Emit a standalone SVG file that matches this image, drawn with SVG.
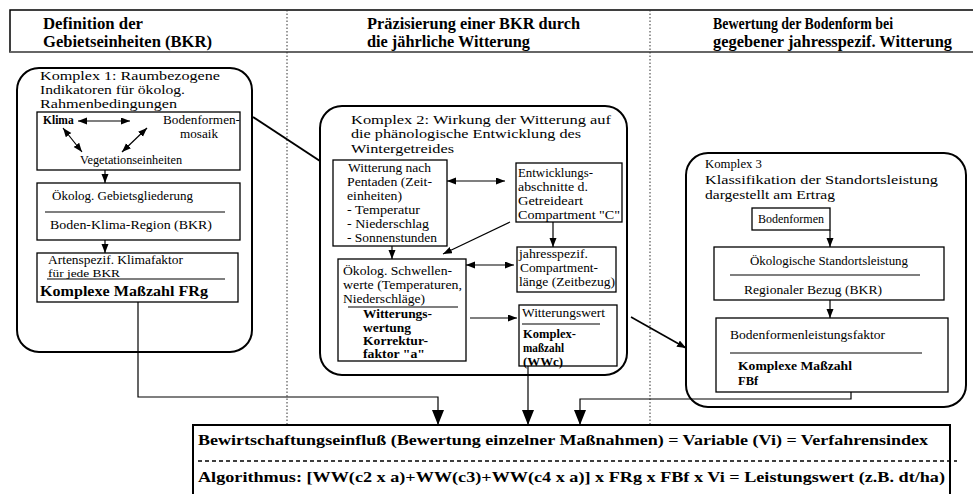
<svg xmlns="http://www.w3.org/2000/svg" width="973" height="494" viewBox="0 0 973 494">
<defs>
<style>
text{font-family:"Liberation Serif","Times New Roman",serif;fill:#000}
.h{font-size:16px;font-weight:bold}
.k{font-size:13.5px}
.k1{font-size:12.5px}
.s{font-size:12px}
.sb{font-size:12.5px;font-weight:bold}
.bb{font-size:15px;font-weight:bold}
.cx{fill:#fff;stroke:#000;stroke-width:2}
.bx{fill:#fff;stroke:#000;stroke-width:1.3}
.ln{fill:none;stroke:#000;stroke-width:1.2}
.dot{fill:none;stroke:#333;stroke-width:1;stroke-dasharray:1.5 2}
</style>
<marker id="a" markerUnits="userSpaceOnUse" markerWidth="10" markerHeight="8" refX="9" refY="3.5" orient="auto-start-reverse"><path d="M0,0 L9,3.5 L0,7 z" fill="#000"/></marker>
<marker id="b" markerUnits="userSpaceOnUse" markerWidth="16" markerHeight="12" refX="15" refY="6" orient="auto"><path d="M0,0 L15,6 L0,12 z" fill="#000"/></marker>
</defs>
<rect width="973" height="494" fill="#fff"/>

<g id="header">
<path d="M973,10 H10 V52 H973" fill="none" stroke="#000" stroke-width="1.5"/>
<line x1="10" y1="52" x2="973" y2="52" stroke="#666" stroke-width="2"/>
<text class="h" x="43" y="29" textLength="100" lengthAdjust="spacingAndGlyphs">Definition der</text>
<text class="h" x="43" y="47" textLength="169" lengthAdjust="spacingAndGlyphs">Gebietseinheiten (BKR)</text>
<text class="h" x="367" y="29" textLength="213" lengthAdjust="spacingAndGlyphs">Präzisierung einer BKR durch</text>
<text class="h" x="367" y="47" textLength="163" lengthAdjust="spacingAndGlyphs">die jährliche Witterung</text>
<text class="h" x="713" y="29" textLength="180" lengthAdjust="spacingAndGlyphs">Bewertung der Bodenform bei</text>
<text class="h" x="713" y="47" textLength="239" lengthAdjust="spacingAndGlyphs">gegebener jahresspezif. Witterung</text>
</g>
<g id="dividers">
<line class="dot" x1="287" y1="10" x2="287" y2="425"/>
<line class="dot" x1="650" y1="10" x2="650" y2="425"/>
</g>

<g id="komplex1">
<rect class="cx" x="17" y="68" width="235" height="284" rx="22"/>
<text class="k1" x="40" y="80" textLength="180" lengthAdjust="spacingAndGlyphs">Komplex 1: Raumbezogene</text>
<text class="k1" x="40" y="94" textLength="145" lengthAdjust="spacingAndGlyphs">Indikatoren für ökolog.</text>
<text class="k1" x="40" y="108" textLength="137" lengthAdjust="spacingAndGlyphs">Rahmenbedingungen</text>
</g>
<g id="k1-umwelt">
<rect class="bx" x="37" y="112" width="203" height="58"/>
<text x="43" y="124" font-weight="bold" font-size="11.5">Klima</text>
<text class="s" x="163" y="124" textLength="77" lengthAdjust="spacingAndGlyphs">Bodenformen-</text>
<text class="s" x="180" y="138" textLength="38" lengthAdjust="spacingAndGlyphs">mosaik</text>
<text class="s" x="80" y="164" textLength="102" lengthAdjust="spacingAndGlyphs">Vegetationseinheiten</text>
</g>
<g id="k1-gliederung">
<rect class="bx" x="37" y="183" width="203" height="57"/>
<text class="s" x="52" y="200" textLength="141" lengthAdjust="spacingAndGlyphs">Ökolog. Gebietsgliederung</text>
<line class="ln" x1="45" y1="212" x2="225" y2="212"/>
<text class="s" x="50" y="229" textLength="162" lengthAdjust="spacingAndGlyphs">Boden-Klima-Region (BKR)</text>
</g>
<g id="k1-klimafaktor">
<rect class="bx" x="37" y="253" width="201" height="49"/>
<text x="48" y="264" font-size="11.5" textLength="135" lengthAdjust="spacingAndGlyphs">Artenspezif. Klimafaktor</text>
<text x="48" y="277" font-size="11" textLength="72" lengthAdjust="spacingAndGlyphs">für jede BKR</text>
<line class="ln" x1="47" y1="279" x2="225" y2="279"/>
<text class="bb" x="40" y="296" font-size="15" textLength="168" lengthAdjust="spacingAndGlyphs">Komplexe Maßzahl FRg</text>
</g>

<g id="komplex2">
<rect class="cx" x="320" y="106" width="307" height="269" rx="22"/>
<text class="k" x="351" y="124" textLength="260" lengthAdjust="spacingAndGlyphs">Komplex 2: Wirkung der Witterung auf</text>
<text class="k" x="351" y="138" textLength="230" lengthAdjust="spacingAndGlyphs">die phänologische Entwicklung des</text>
<text class="k" x="351" y="153" textLength="103" lengthAdjust="spacingAndGlyphs">Wintergetreides</text>
</g>
<g id="k2-witterung">
<rect class="bx" x="333" y="160" width="114" height="86"/>
<text class="s" x="348" y="172" textLength="83" lengthAdjust="spacingAndGlyphs">Witterung nach</text>
<text class="s" x="347" y="186" textLength="85" lengthAdjust="spacingAndGlyphs">Pentaden (Zeit-</text>
<text class="s" x="347" y="200" textLength="55" lengthAdjust="spacingAndGlyphs">einheiten)</text>
<text class="s" x="347" y="214" textLength="73" lengthAdjust="spacingAndGlyphs">- Temperatur</text>
<text class="s" x="347" y="228" textLength="82" lengthAdjust="spacingAndGlyphs">- Niederschlag</text>
<text class="s" x="347" y="242" textLength="90" lengthAdjust="spacingAndGlyphs">- Sonnenstunden</text>
</g>
<g id="k2-entwicklung">
<rect class="bx" x="516" y="163" width="106" height="59"/>
<text class="s" x="518" y="177" textLength="75" lengthAdjust="spacingAndGlyphs">Entwicklungs-</text>
<text class="s" x="518" y="191" textLength="70" lengthAdjust="spacingAndGlyphs">abschnitte d.</text>
<text class="s" x="518" y="205" textLength="65" lengthAdjust="spacingAndGlyphs">Getreideart</text>
<text class="s" x="518" y="219" textLength="102" lengthAdjust="spacingAndGlyphs">Compartment "C"</text>
</g>
<g id="k2-schwellen">
<rect class="bx" x="338" y="259" width="128" height="102"/>
<text class="s" x="343" y="275" textLength="109" lengthAdjust="spacingAndGlyphs">Ökolog. Schwellen-</text>
<text class="s" x="343" y="289" textLength="119" lengthAdjust="spacingAndGlyphs">werte (Temperaturen,</text>
<text class="s" x="343" y="303" textLength="82" lengthAdjust="spacingAndGlyphs">Niederschläge)</text>
<line class="ln" x1="348" y1="307" x2="458" y2="307"/>
<text class="sb" x="363" y="318" textLength="69" lengthAdjust="spacingAndGlyphs">Witterungs-</text>
<text class="sb" x="363" y="332" textLength="48" lengthAdjust="spacingAndGlyphs">wertung</text>
<text class="sb" x="363" y="345" textLength="65" lengthAdjust="spacingAndGlyphs">Korrektur-</text>
<text class="sb" x="363" y="358" textLength="62" lengthAdjust="spacingAndGlyphs">faktor "a"</text>
</g>
<g id="k2-compartment">
<rect class="bx" x="517" y="247" width="99" height="45"/>
<text class="s" x="519" y="258" textLength="69" lengthAdjust="spacingAndGlyphs">jahresspezif.</text>
<text class="s" x="520" y="272" textLength="78" lengthAdjust="spacingAndGlyphs">Compartment-</text>
<text class="s" x="519" y="286" textLength="96" lengthAdjust="spacingAndGlyphs">länge (Zeitbezug)</text>
</g>
<g id="k2-witterungswert">
<rect class="bx" x="519" y="305" width="98" height="61"/>
<text class="s" x="522" y="317" textLength="83" lengthAdjust="spacingAndGlyphs">Witterungswert</text>
<line class="ln" x1="522" y1="324" x2="600" y2="324"/>
<text class="sb" x="523" y="338" textLength="53" lengthAdjust="spacingAndGlyphs">Komplex-</text>
<text class="sb" x="523" y="352" textLength="41" lengthAdjust="spacingAndGlyphs">maßzahl</text>
<text class="sb" x="523" y="366" textLength="40" lengthAdjust="spacingAndGlyphs">(WWc)</text>
</g>

<g id="komplex3">
<rect class="cx" x="686" y="153" width="280" height="254" rx="22"/>
<text class="k" x="705" y="168" textLength="57" lengthAdjust="spacingAndGlyphs">Komplex 3</text>
<text class="k" x="705" y="184" textLength="233" lengthAdjust="spacingAndGlyphs">Klassifikation der Standortsleistung</text>
<text class="k" x="705" y="199" textLength="130" lengthAdjust="spacingAndGlyphs">dargestellt am Ertrag</text>
</g>
<g id="k3-bodenformen">
<rect class="bx" x="752" y="208" width="78" height="22"/>
<text class="s" x="791" y="223" text-anchor="middle">Bodenformen</text>
</g>
<g id="k3-standort">
<rect class="bx" x="714" y="247" width="230" height="53"/>
<text x="829" y="265" font-size="13.5" text-anchor="middle" textLength="158" lengthAdjust="spacingAndGlyphs">Ökologische Standortsleistung</text>
<line class="ln" x1="730" y1="275" x2="920" y2="275"/>
<text class="s" x="744" y="294" textLength="138" lengthAdjust="spacingAndGlyphs">Regionaler Bezug (BKR)</text>
</g>
<g id="k3-faktor">
<rect class="bx" x="716" y="318" width="232" height="74"/>
<text class="s" x="730" y="339" textLength="155" lengthAdjust="spacingAndGlyphs">Bodenformenleistungsfaktor</text>
<line class="ln" x1="730" y1="353" x2="922" y2="353"/>
<text class="sb" x="738" y="370" textLength="114" lengthAdjust="spacingAndGlyphs">Komplexe Maßzahl</text>
<text class="sb" x="738" y="385">FBf</text>
</g>

<g id="bewirtschaftung">
<path d="M193,500 V425 H950 V500" fill="#fff" stroke="#000" stroke-width="2"/>
<text class="bb" x="198" y="445" textLength="730" lengthAdjust="spacingAndGlyphs">Bewirtschaftungseinfluß (Bewertung einzelner Maßnahmen) = Variable (Vi) = Verfahrensindex</text>
<line x1="198" y1="461" x2="957" y2="461" stroke="#000" stroke-width="1.3" stroke-dasharray="4 3"/>
<text class="bb" x="198" y="482" textLength="747" lengthAdjust="spacingAndGlyphs">Algorithmus: [WW(c2 x a)+WW(c3)+WW(c4 x a)] x FRg x FBf x Vi = Leistungswert (z.B. dt/ha)</text>
</g>

<g id="connectors">
<line class="ln" x1="78" y1="121" x2="130" y2="121" marker-start="url(#a)" marker-end="url(#a)"/>
<line class="ln" x1="63" y1="128" x2="82" y2="152" marker-start="url(#a)" marker-end="url(#a)"/>
<line class="ln" x1="147" y1="128" x2="122" y2="152" marker-start="url(#a)" marker-end="url(#a)"/>
<line class="ln" x1="105" y1="170" x2="105" y2="183" marker-end="url(#a)"/>
<line class="ln" x1="105" y1="240" x2="105" y2="253" marker-end="url(#a)"/>
<path class="ln" d="M138,302 V397 H438 V425" marker-end="url(#b)"/>
<line x1="253" y1="117" x2="320" y2="161" stroke="#000" stroke-width="2"/>
<line class="ln" x1="447" y1="181" x2="505" y2="181" marker-start="url(#a)" marker-end="url(#a)"/>
<line class="ln" x1="510" y1="222" x2="443" y2="254" marker-end="url(#a)"/>
<line class="ln" x1="392" y1="246" x2="392" y2="259" marker-end="url(#a)"/>
<line class="ln" x1="553" y1="222" x2="553" y2="247" marker-end="url(#a)"/>
<line class="ln" x1="466" y1="265" x2="514" y2="265" marker-start="url(#a)" marker-end="url(#a)"/>
<line class="ln" x1="470" y1="318" x2="517" y2="318" marker-end="url(#a)"/>
<line class="ln" x1="528" y1="366" x2="528" y2="425" marker-end="url(#b)"/>
<line x1="631" y1="317" x2="686" y2="348" stroke="#000" stroke-width="1.6" marker-end="url(#a)"/>
<line class="ln" x1="830" y1="230" x2="830" y2="247" marker-end="url(#a)"/>
<line class="ln" x1="830" y1="300" x2="830" y2="318" marker-end="url(#a)"/>
<path class="ln" d="M851,392 V399 H580 V425" marker-end="url(#b)"/>
</g>
</svg>
